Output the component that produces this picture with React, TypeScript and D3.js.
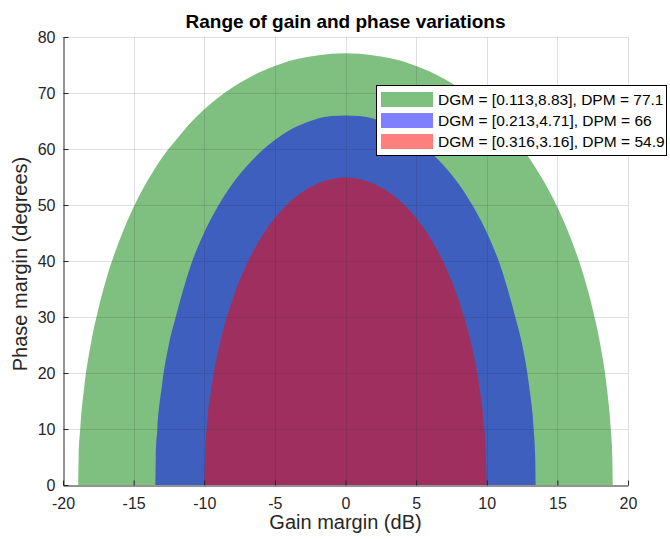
import React, { useEffect, useRef } from 'react';
import * as d3 from 'd3';

// right half of each region boundary (gain dB -> phase deg)
const greenGain = [0, 1, 2, 3, 4, 5, 6, 7, 8, 9, 10, 11, 12, 13, 14, 15, 16, 17, 17.5, 18, 18.5, 18.78, 18.89, 18.92];
const greenPhase = [77.1, 77.0, 76.7, 76.3, 75.7, 74.8, 73.8, 72.5, 71.0, 69.2, 67.1, 64.6, 61.6, 58.4, 54.4, 49.6, 43.7, 36.2, 31.4, 25.6, 17.4, 10, 5, 0];
const blueGain = [0, 1, 2, 3, 4, 5, 6, 7, 8, 9, 10, 11, 12, 12.5, 13, 13.32, 13.43, 13.46];
const bluePhase = [66.0, 65.9, 65.4, 64.5, 63.3, 61.6, 59.5, 56.9, 53.8, 49.9, 45.1, 38.9, 30.2, 25.2, 17.7, 10, 5, 0];
const redGain = [0, 1, 2, 3, 4, 5, 6, 7, 8, 8.5, 9, 9.5, 9.83, 9.95, 9.99];
const redPhase = [54.9, 54.6, 53.8, 52.4, 50.4, 47.7, 44.1, 39.4, 33.1, 29.1, 24.1, 17.2, 10, 5, 0];

const legendLabels = [
  'DGM = [0.113,8.83], DPM = 77.1',
  'DGM = [0.213,4.71], DPM = 66',
  'DGM = [0.316,3.16], DPM = 54.9',
];
const fillColors = ['#008000', '#0000ff', '#ff0000'];
const xTicks = [-20, -15, -10, -5, 0, 5, 10, 15, 20];
const yTicks = [0, 10, 20, 30, 40, 50, 60, 70, 80];

const W = 670;
const H = 539;
const margin = { left: 63, right: 42, top: 37, bottom: 54 };
const font = '"Liberation Sans", Arial, Helvetica, sans-serif';
const ink = '#262626';

function App() {
  const ref = useRef<SVGSVGElement>(null);

  useEffect(() => {
    const svg = d3.select(ref.current);
    svg.selectAll('*').remove();

    const x = d3.scaleLinear().domain([-20, 20]).range([margin.left, W - margin.right]);
    const y = d3.scaleLinear().domain([0, 80]).range([H - margin.bottom, margin.top]);

    const regions = [
      [greenGain, greenPhase],
      [blueGain, bluePhase],
      [redGain, redPhase],
    ].map(([g, p]) => {
      const right = g.map((v, i) => [v, p[i]]);
      const left = right.slice(1).map(d => [-d[0], d[1]]).reverse();
      return left.concat(right);
    });

    svg.append('defs').append('clipPath').attr('id', 'plotclip')
      .append('rect')
      .attr('x', margin.left).attr('y', margin.top)
      .attr('width', W - margin.left - margin.right)
      .attr('height', H - margin.top - margin.bottom);

    const area = d3.area<number[]>()
      .x(d => x(d[0]))
      .y0(y(0))
      .y1(d => y(d[1]))
      .curve(d3.curveMonotoneX);

    svg.append('g').attr('clip-path', 'url(#plotclip)')
      .selectAll('path')
      .data(regions)
      .join('path')
      .attr('d', d => area(d))
      .attr('fill', (d, i) => fillColors[i])
      .attr('fill-opacity', 0.5);

    // grid on top of the patches
    const grid = svg.append('g')
      .attr('stroke', ink)
      .attr('stroke-opacity', 0.15)
      .attr('stroke-width', 1);
    grid.selectAll('.gx')
      .data(xTicks.slice(1))
      .join('line')
      .attr('x1', d => Math.round(x(d)) + 0.5).attr('x2', d => Math.round(x(d)) + 0.5)
      .attr('y1', y(0)).attr('y2', y(80));
    grid.selectAll('.gy')
      .data(yTicks.slice(1))
      .join('line')
      .attr('y1', d => Math.round(y(d)) + 0.5).attr('y2', d => Math.round(y(d)) + 0.5)
      .attr('x1', x(-20)).attr('x2', x(20));

    const fmt = (d: number) => String(d);

    // axes
    const xAxis = svg.append('g')
      .attr('transform', `translate(0,${Math.round(y(0)) + 0.5})`)
      .call(d3.axisBottom(x).tickValues(xTicks).tickFormat(fmt)
        .tickSizeInner(-5).tickSizeOuter(0).tickPadding(12));
    const yAxis = svg.append('g')
      .attr('transform', `translate(${Math.round(x(-20)) + 0.5},0)`)
      .call(d3.axisLeft(y).tickValues(yTicks).tickFormat(fmt)
        .tickSizeInner(-5).tickSizeOuter(0).tickPadding(8));
    [xAxis, yAxis].forEach(a => {
      a.select('.domain').attr('stroke', ink);
      a.selectAll('.tick line').attr('stroke', ink);
      a.selectAll('.tick text')
        .attr('fill', ink)
        .style('font-family', font)
        .style('font-size', '16px');
    });

    svg.append('text')
      .attr('x', (x(-20) + x(20)) / 2)
      .attr('y', 28)
      .attr('text-anchor', 'middle')
      .style('font-family', font)
      .style('font-size', '19px')
      .style('font-weight', 'bold')
      .attr('fill', '#000')
      .text('Range of gain and phase variations');

    svg.append('text')
      .attr('x', (x(-20) + x(20)) / 2)
      .attr('y', 529)
      .attr('text-anchor', 'middle')
      .style('font-family', font)
      .style('font-size', '20px')
      .attr('fill', ink)
      .text('Gain margin (dB)');

    svg.append('text')
      .attr('transform', `translate(27,${(y(0) + y(80)) / 2 + 3}) rotate(-90)`)
      .attr('text-anchor', 'middle')
      .style('font-family', font)
      .style('font-size', '20px')
      .attr('fill', ink)
      .text('Phase margin (degrees)');

    // legend
    const lg = svg.append('g');
    lg.append('rect')
      .attr('x', 376.5).attr('y', 85.5)
      .attr('width', 290).attr('height', 70)
      .attr('fill', '#fff')
      .attr('stroke', '#000');
    legendLabels.forEach((lab, i) => {
      const cy = 99.5 + i * 21;
      lg.append('rect')
        .attr('x', 381).attr('y', cy - 7.5)
        .attr('width', 52).attr('height', 15)
        .attr('fill', fillColors[i])
        .attr('fill-opacity', 0.5);
      lg.append('text')
        .attr('x', 438).attr('y', cy)
        .attr('dy', '0.35em')
        .style('font-family', font)
        .style('font-size', '15.5px')
        .attr('fill', '#000')
        .text(lab);
    });
  }, []);

  return (
    <svg ref={ref} width={W} height={H}
      style={{ position: 'absolute', left: 0, top: 0, background: '#fff' }} />
  );
}

export default App;
